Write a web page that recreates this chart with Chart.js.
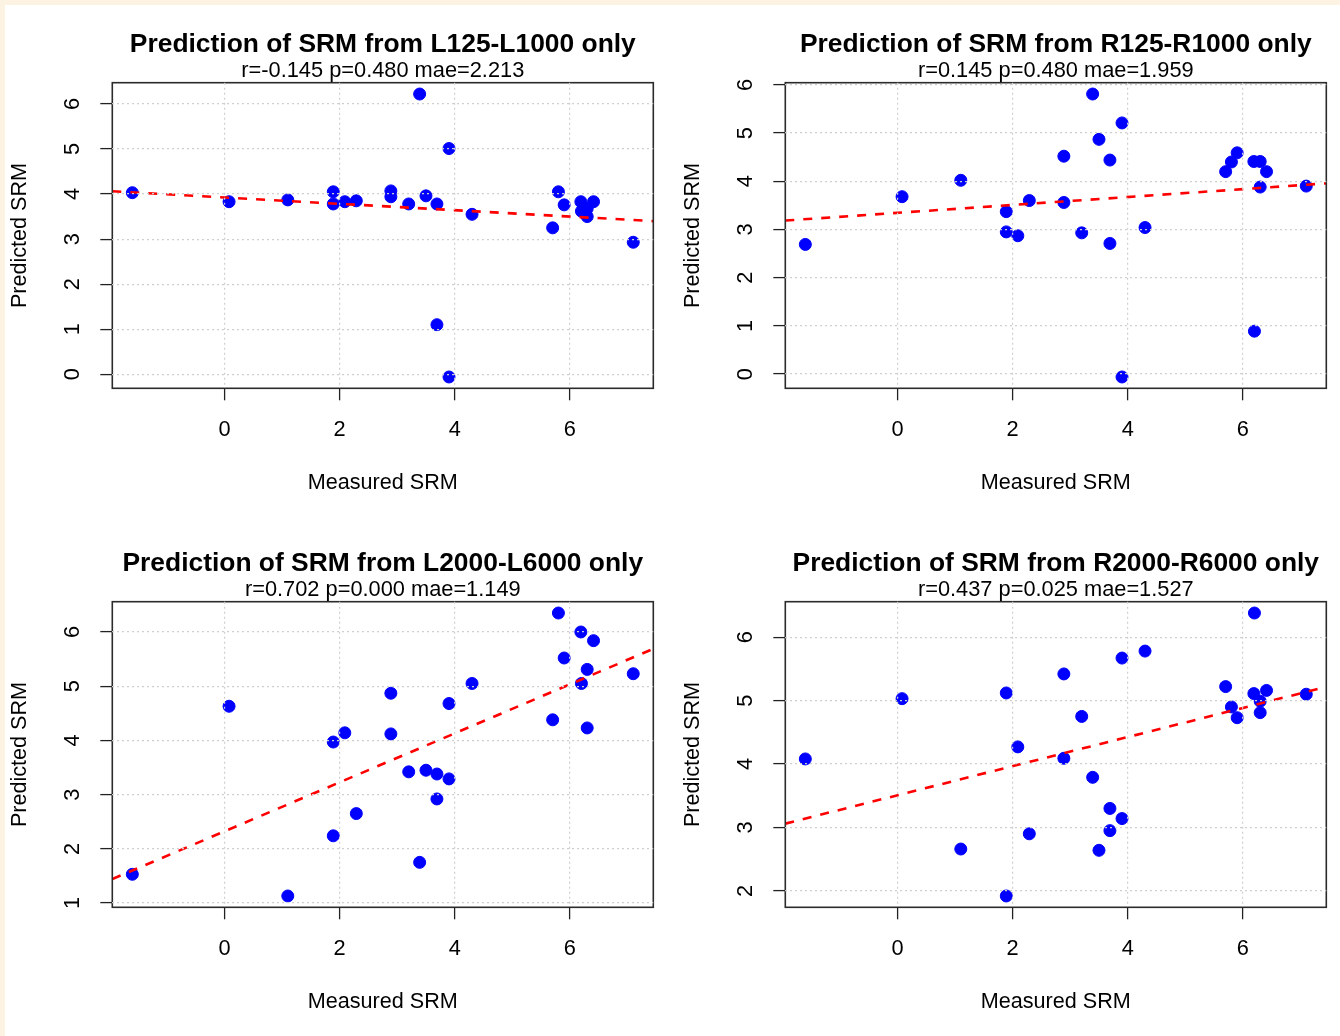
<!DOCTYPE html>
<html lang="en">
<head>
<meta charset="UTF-8" />
<title>Prediction of SRM</title>
<script src="https://cdn.jsdelivr.net/npm/chart.js@4.4.1/dist/chart.umd.min.js"></script>
<style>
  html, body { margin: 0; padding: 0; overflow: hidden; }
  body { width: 1340px; height: 1036px; position: relative; background: #fcf3e2; }
  #sheet { position: absolute; left: 5px; top: 5px; right: 0; bottom: 0; background: #ffffff; }
  canvas { position: absolute; }
  #chart1 { left: 0; top: 0; }
  #chart2 { left: 673px; top: 0; }
  #chart3 { left: 0; top: 519px; }
  #chart4 { left: 673px; top: 519px; }
</style>
</head>
<body>
<div id="sheet"></div>
<canvas id="chart1" width="667" height="517"></canvas>
<canvas id="chart2" width="667" height="517"></canvas>
<canvas id="chart3" width="667" height="517"></canvas>
<canvas id="chart4" width="667" height="517"></canvas>

<script>
// measured SRM, one value per sample (same samples in every panel)
const measured = [-1.6, 0.08, 1.1, 1.89, 1.89, 2.09, 2.29, 2.89, 2.89, 3.2, 3.39, 3.5, 3.69,
                  3.69, 3.9, 3.9, 4.3, 5.7, 5.8, 5.9, 6.19, 6.2, 6.3, 6.3, 6.41, 7.1];

// predicted SRM for each band set
const predL125 = [4.03, 3.83, 3.87, 4.05, 3.78, 3.83, 3.85, 4.07, 3.94, 3.78, 6.22, 3.96, 3.78,
                  1.10, 5.01, -0.06, 3.55, 3.25, 4.05, 3.76, 3.83, 3.62, 3.68, 3.50, 3.83, 2.93];
const predR125 = [2.69, 3.68, 4.02, 3.37, 2.95, 2.87, 3.60, 4.52, 3.56, 2.93, 5.81, 4.87, 4.44,
                  2.71, 5.21, -0.06, 3.04, 4.20, 4.40, 4.59, 4.41, 0.89, 4.41, 3.88, 4.20, 3.90];
const predL2000 = [1.53, 4.63, 1.13, 3.97, 2.24, 4.14, 2.65, 4.87, 4.12, 3.42, 1.75, 3.45, 3.38,
                   2.92, 4.68, 3.29, 5.05, 4.38, 6.35, 5.52, 6.00, 5.05, 5.31, 4.23, 5.84, 5.23];
const predR2000 = [4.08, 5.03, 2.66, 5.12, 1.92, 4.27, 2.90, 5.42, 4.09, 4.75, 3.79, 2.64, 3.30,
                   2.95, 5.67, 3.14, 5.78, 5.22, 4.90, 4.73, 5.11, 6.38, 4.99, 4.81, 5.16, 5.10];

const bandNames = ['L125-L1000', 'R125-R1000', 'L2000-L6000', 'R2000-R6000'];
const rValues = [-0.145, 0.145, 0.702, 0.437];
const pValues = [0.480, 0.480, 0.000, 0.025];
const maeValues = [2.213, 1.959, 1.149, 1.527];

const xTicks = [0, 2, 4, 6];
const yTicksL125 = [0, 1, 2, 3, 4, 5, 6];
const yTicksR125 = [0, 1, 2, 3, 4, 5, 6];
const yTicksL2000 = [1, 2, 3, 4, 5, 6];
const yTicksR2000 = [2, 3, 4, 5, 6];

const FONT = "'Liberation Sans', Arial, sans-serif";

// axis limits padded by 4% on each side, like base R plots
function paddedRange(values) {
  const lo = Math.min(...values), hi = Math.max(...values);
  const d = (hi - lo) * 0.04;
  return [lo - d, hi + d];
}

// ordinary least squares fit of y on x
function fitLine(xs, ys) {
  const n = xs.length;
  const mx = xs.reduce((a, b) => a + b, 0) / n;
  const my = ys.reduce((a, b) => a + b, 0) / n;
  let sxy = 0, sxx = 0;
  for (let i = 0; i < n; i++) {
    sxy += (xs[i] - mx) * (ys[i] - my);
    sxx += (xs[i] - mx) * (xs[i] - mx);
  }
  const slope = sxy / sxx;
  return { slope: slope, intercept: my - slope * mx };
}

// frame around the plotting region
const plotBox = {
  id: 'plotBox',
  afterDatasetsDraw(chart) {
    const { ctx, chartArea: a } = chart;
    ctx.save();
    ctx.strokeStyle = '#2b2b2b';
    ctx.lineWidth = 1.6;
    ctx.strokeRect(a.left, a.top, a.right - a.left, a.bottom - a.top);
    ctx.restore();
  }
};

function makePanel(canvasId, preds, idx, yTicks) {
  const xr = paddedRange(measured);
  const yr = paddedRange(preds);
  const fit = fitLine(measured, preds);
  const points = measured.map((x, i) => ({ x: x, y: preds[i] }));
  const fitPoints = xr.map(x => ({ x: x, y: fit.intercept + fit.slope * x }));
  const stats = 'r=' + rValues[idx].toFixed(3) + ' p=' + pValues[idx].toFixed(3) +
                ' mae=' + maeValues[idx].toFixed(3);

  const gridOpts = {
    color: '#cfcfcf', lineWidth: 1.2, z: 1,
    tickColor: '#222222', tickLength: 12, tickWidth: 1.3
  };

  return new Chart(document.getElementById(canvasId), {
    type: 'scatter',
    data: {
      datasets: [
        {
          type: 'line',
          data: fitPoints,
          borderColor: '#ff0000',
          borderWidth: 2.6,
          borderDash: [9, 9],
          pointRadius: 0,
          fill: false
        },
        {
          data: points,
          pointRadius: 6,
          pointBackgroundColor: '#0000ff',
          pointBorderColor: '#0000ff',
          pointBorderWidth: 1
        }
      ]
    },
    options: {
      responsive: false,
      animation: false,
      layout: { padding: { left: 0, right: 13.7, top: 0, bottom: 0 } },
      plugins: {
        legend: { display: false },
        tooltip: { enabled: false },
        title: {
          display: true,
          fullSize: false,
          text: 'Prediction of SRM from ' + bandNames[idx] + ' only',
          color: '#000000',
          font: { family: FONT, size: 26.4, weight: 'bold', lineHeight: 1 },
          padding: { top: 31.8, bottom: 0 }
        },
        subtitle: {
          display: true,
          fullSize: false,
          text: stats,
          color: '#000000',
          font: { family: FONT, size: 21.8, lineHeight: 1 },
          padding: { top: 1.4, bottom: 1.3 }
        }
      },
      scales: {
        x: {
          type: 'linear',
          min: xr[0],
          max: xr[1],
          afterBuildTicks: s => { s.ticks = xTicks.map(v => ({ value: v })); },
          afterFit: s => { s.height = 128.7; },
          grid: gridOpts,
          border: { display: false, dash: [2, 3] },
          ticks: {
            autoSkip: false, maxRotation: 0, padding: 17, color: '#000000',
            font: { family: FONT, size: 21.8 }
          },
          title: {
            display: true, text: 'Measured SRM', color: '#000000',
            font: { family: FONT, size: 21.6 },
            padding: { top: 0, bottom: 20.5 }
          }
        },
        y: {
          type: 'linear',
          min: yr[0],
          max: yr[1],
          afterBuildTicks: s => { s.ticks = yTicks.map(v => ({ value: v })); },
          afterFit: s => { s.width = 112.3; },
          grid: gridOpts,
          border: { display: false, dash: [2, 3] },
          ticks: {
            autoSkip: false, minRotation: 90, maxRotation: 90, crossAlign: 'center',
            padding: 20.8, color: '#000000',
            font: { family: FONT, size: 21.8 }
          },
          title: {
            display: true, text: 'Predicted SRM', color: '#000000',
            font: { family: FONT, size: 21.6 },
            padding: { top: 7, bottom: 0 }
          }
        }
      }
    },
    plugins: [plotBox]
  });
}

makePanel('chart1', predL125, 0, yTicksL125);
makePanel('chart2', predR125, 1, yTicksR125);
makePanel('chart3', predL2000, 2, yTicksL2000);
makePanel('chart4', predR2000, 3, yTicksR2000);
</script>
</body>
</html>
